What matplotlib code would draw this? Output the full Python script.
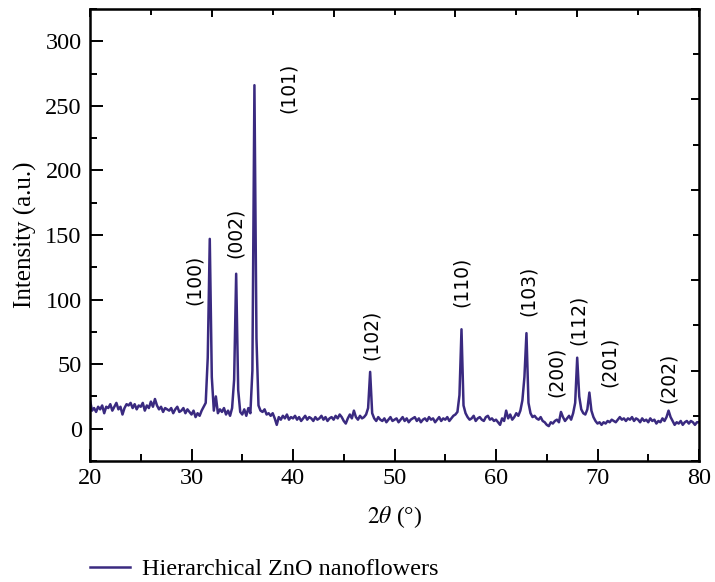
import numpy as np
import matplotlib
matplotlib.use("Agg")
import matplotlib.pyplot as plt
from matplotlib.ticker import MultipleLocator, NullFormatter

plt.rcParams["font.family"] = ["Liberation Serif", "DejaVu Serif"]
plt.rcParams["mathtext.fontset"] = "stix"

# XRD pattern sampled every 0.2 degrees from 20 to 80 (2theta)
two_theta_start = 20.0
two_theta_step = 0.2
intensity = [
    22, 14, 16, 13, 17,   # 20
    15, 18, 12, 17, 16,   # 21
    19, 14, 17, 20, 15,   # 22
    17, 11, 16, 19, 18,   # 23
    20, 16, 19, 15, 18,   # 24
    17, 20, 14, 18, 16,   # 25
    21, 17, 23, 18, 15,   # 26
    17, 13, 16, 15, 14,   # 27
    16, 12, 15, 17, 13,   # 28
    14, 16, 12, 15, 13,   # 29
    11, 14, 9, 12, 10,    # 30
    14, 17, 20, 55, 147,  # 31
    40, 14, 25, 12, 15,   # 32
    13, 16, 11, 14, 10,   # 33
    16, 38, 120, 30, 13,  # 34
    11, 15, 10, 16, 12,   # 35
    45, 266, 70, 18, 14,  # 36
    13, 15, 11, 12, 10,   # 37
    12, 8, 3, 9, 7,       # 38
    10, 8, 11, 7, 9,      # 39
    8, 10, 7, 9, 6,       # 40
    8, 10, 7, 9, 8,       # 41
    6, 9, 7, 8, 10,       # 42
    7, 9, 6, 8, 9,        # 43
    7, 10, 8, 11, 9,      # 44
    6, 4, 8, 11, 8,       # 45
    14, 9, 7, 10, 8,      # 46
    9, 11, 16, 44, 12,    # 47
    8, 6, 9, 7, 6,        # 48
    8, 5, 7, 9, 6,        # 49
    7, 8, 5, 7, 9,        # 50
    6, 8, 5, 7, 8,        # 51
    9, 6, 8, 5, 7,        # 52
    8, 6, 9, 7, 8,        # 53
    5, 7, 9, 6, 8,        # 54
    7, 9, 6, 8, 10,       # 55
    11, 13, 26, 77, 18,   # 56
    12, 9, 7, 8, 10,      # 57
    6, 8, 9, 7, 6,        # 58
    9, 10, 7, 8, 6,       # 59
    7, 5, 3, 8, 6,        # 60
    14, 8, 11, 7, 9,      # 61
    12, 10, 14, 22, 40,   # 62
    74, 20, 12, 9, 10,    # 63
    8, 7, 9, 6, 5,        # 64
    3, 2, 5, 4, 6,        # 65
    7, 5, 13, 9, 6,       # 66
    8, 10, 7, 12, 20,     # 67
    55, 25, 15, 12, 11,   # 68
    15, 28, 14, 9, 6,     # 69
    4, 5, 3, 5, 4,        # 70
    6, 5, 7, 6, 5,        # 71
    7, 9, 7, 8, 6,        # 72
    8, 7, 9, 6, 8,        # 73
    7, 5, 8, 6, 7,        # 74
    5, 8, 6, 7, 4,        # 75
    6, 5, 8, 6, 9,        # 76
    14, 9, 6, 3, 5,       # 77
    4, 6, 3, 5, 6,        # 78
    4, 6, 5, 3, 5,        # 79
    5,                    # 80
]
two_theta = two_theta_start + two_theta_step * np.arange(len(intensity))

# Miller indices and where their labels sit (2theta, intensity)
hkl_labels = ["(100)", "(002)", "(101)", "(102)", "(110)",
              "(103)", "(200)", "(112)", "(201)", "(202)"]
hkl_x = [30.25, 34.3, 39.55, 47.75, 56.55, 63.2, 65.9, 68.1, 71.15, 77.0]
hkl_y = [115, 152, 264, 73, 114, 107, 44, 84, 52, 39]

line_color = "#3a2a80"

fig = plt.figure(figsize=(7.15, 5.82), dpi=100)
ax = fig.add_axes([90 / 715, 1 - 461 / 582, 609 / 715, 452 / 582])

ax.plot(two_theta, intensity, color=line_color, lw=1.8,
        label="Hierarchical ZnO nanoflowers")

ax.set_xlim(20, 80)
ax.set_ylim(-25, 325)
ax.set_xticks([20, 30, 40, 50, 60, 70, 80])
ax.set_yticks([0, 50, 100, 150, 200, 250, 300])
ax.xaxis.set_minor_locator(MultipleLocator(5))
ax.yaxis.set_minor_locator(MultipleLocator(25))
ax.tick_params(which="both", direction="in", width=1.4, labelsize=17.5)
ax.tick_params(which="major", length=9)
ax.tick_params(which="minor", length=5)
ax.tick_params(axis="x", pad=5)
ax.tick_params(axis="y", pad=6)
for s in ax.spines.values():
    s.set_linewidth(1.8)

ax.set_xlabel(r"$2\theta$ (°)", fontsize=17, labelpad=11)
ax.set_ylabel("Intensity (a.u.)", fontsize=18, labelpad=6)

# independent top and right axes, ten divisions each
top = ax.secondary_xaxis("top")
top.set_xticks([20, 32, 44, 56, 68, 80])
top.set_xticks([26, 38, 50, 62, 74], minor=True)
top.xaxis.set_major_formatter(NullFormatter())
top.tick_params(which="both", direction="in", width=1.4)
top.tick_params(which="major", length=6)
top.tick_params(which="minor", length=4)

right = ax.secondary_yaxis("right")
right.set_yticks([-25, 45, 115, 185, 255, 325])
right.set_yticks([10, 80, 150, 220, 290], minor=True)
right.yaxis.set_major_formatter(NullFormatter())
right.tick_params(which="both", direction="in", width=1.4)
right.tick_params(which="major", length=6)
right.tick_params(which="minor", length=4)

for lab, x, y in zip(hkl_labels, hkl_x, hkl_y):
    ax.text(x, y, lab, rotation=90, ha="center", va="center",
            fontsize=13.5, family=["DejaVu Sans"])

fig.legend(loc="center left", bbox_to_anchor=(90 / 715, 1 - 569 / 582),
           frameon=False, fontsize=17.5, handlelength=1.65, handletextpad=0.5,
           borderpad=0, borderaxespad=0)

fig.savefig("out.png", dpi=100)
